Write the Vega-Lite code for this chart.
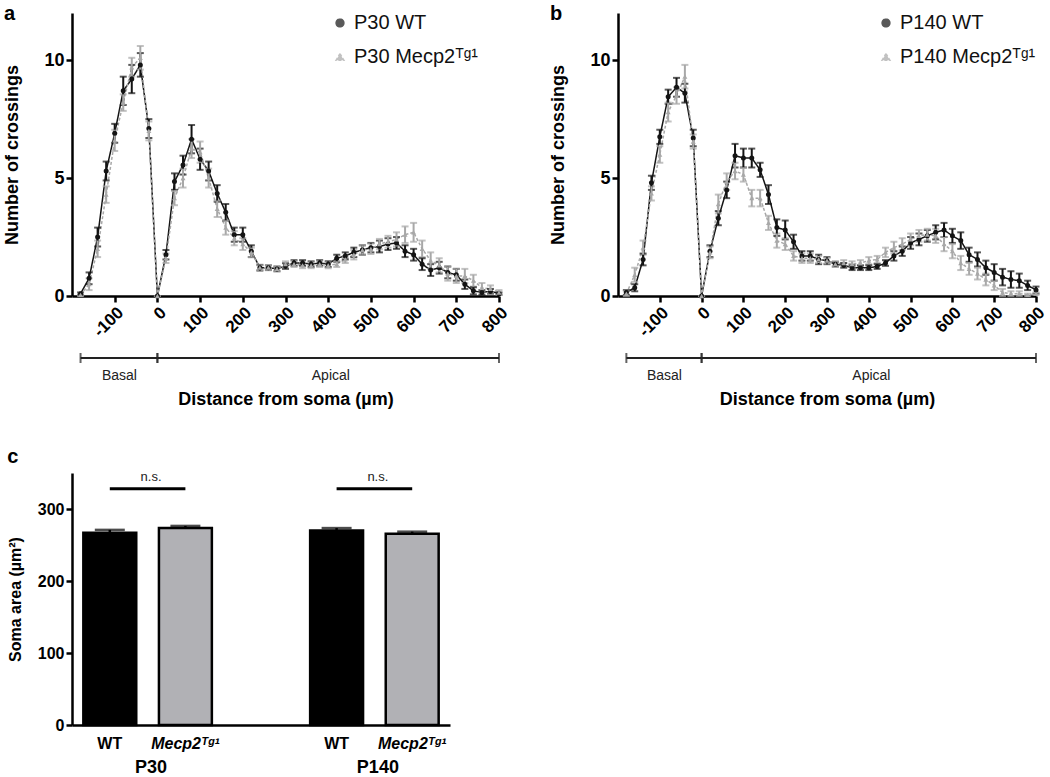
{
  "$schema": "https://vega.github.io/schema/vega-lite/v6.json",
  "background": "white",
  "padding": {"left": 3, "top": 4, "right": 5, "bottom": 2},
  "config": {
    "view": {"stroke": null},
    "font": "Liberation Sans",
    "axis": {"domainColor": "#000", "domainWidth": 2.5, "tickColor": "#000", "tickWidth": 2.5, "tickSize": 6, "labelColor": "#000", "titleColor": "#000", "grid": false, "labelFont": "Liberation Sans", "titleFont": "Liberation Sans", "labelFontWeight": "bold", "titleFontWeight": "bold"},
    "legend": {"labelFont": "Liberation Sans", "labelFontSize": 20, "labelColor": "#111", "symbolSize": 60, "rowPadding": 14, "padding": 0, "symbolStrokeWidth": 1.5, "labelLimit": 300, "orient": "none"},
    "title": {"font": "Liberation Sans", "color": "#000"}
  },
  "datasets": {
    "sholl": [
      {"p":"a","g":"WT","d":-180,"n":0.1,"se":0.05},{"p":"a","g":"WT","d":-160,"n":0.75,"se":0.25},{"p":"a","g":"WT","d":-140,"n":2.5,"se":0.4},{"p":"a","g":"WT","d":-120,"n":5.3,"se":0.4},{"p":"a","g":"WT","d":-100,"n":6.9,"se":0.4},{"p":"a","g":"WT","d":-80,"n":8.7,"se":0.6},{"p":"a","g":"WT","d":-60,"n":9.2,"se":0.6},{"p":"a","g":"WT","d":-40,"n":9.8,"se":0.5},{"p":"a","g":"WT","d":-20,"n":7.1,"se":0.4},{"p":"a","g":"WT","d":0,"n":0,"se":0},
      {"p":"a","g":"WT","d":20,"n":1.75,"se":0.2},{"p":"a","g":"WT","d":40,"n":4.85,"se":0.35},{"p":"a","g":"WT","d":60,"n":5.55,"se":0.4},{"p":"a","g":"WT","d":80,"n":6.65,"se":0.6},{"p":"a","g":"WT","d":100,"n":5.8,"se":0.45},{"p":"a","g":"WT","d":120,"n":5.3,"se":0.4},{"p":"a","g":"WT","d":140,"n":4.35,"se":0.35},{"p":"a","g":"WT","d":160,"n":3.55,"se":0.35},{"p":"a","g":"WT","d":180,"n":2.6,"se":0.3},{"p":"a","g":"WT","d":200,"n":2.6,"se":0.3},
      {"p":"a","g":"WT","d":220,"n":1.9,"se":0.25},{"p":"a","g":"WT","d":240,"n":1.2,"se":0.12},{"p":"a","g":"WT","d":260,"n":1.2,"se":0.1},{"p":"a","g":"WT","d":280,"n":1.15,"se":0.1},{"p":"a","g":"WT","d":300,"n":1.27,"se":0.12},{"p":"a","g":"WT","d":320,"n":1.4,"se":0.12},{"p":"a","g":"WT","d":340,"n":1.4,"se":0.12},{"p":"a","g":"WT","d":360,"n":1.35,"se":0.12},{"p":"a","g":"WT","d":380,"n":1.4,"se":0.12},{"p":"a","g":"WT","d":400,"n":1.35,"se":0.12},
      {"p":"a","g":"WT","d":420,"n":1.6,"se":0.15},{"p":"a","g":"WT","d":440,"n":1.7,"se":0.15},{"p":"a","g":"WT","d":460,"n":1.85,"se":0.2},{"p":"a","g":"WT","d":480,"n":1.95,"se":0.2},{"p":"a","g":"WT","d":500,"n":2.05,"se":0.2},{"p":"a","g":"WT","d":520,"n":2.1,"se":0.25},{"p":"a","g":"WT","d":540,"n":2.2,"se":0.25},{"p":"a","g":"WT","d":560,"n":2.25,"se":0.25},{"p":"a","g":"WT","d":580,"n":1.9,"se":0.25},{"p":"a","g":"WT","d":600,"n":1.75,"se":0.25},
      {"p":"a","g":"WT","d":620,"n":1.35,"se":0.25},{"p":"a","g":"WT","d":640,"n":1.1,"se":0.25},{"p":"a","g":"WT","d":660,"n":1.2,"se":0.25},{"p":"a","g":"WT","d":680,"n":1.0,"se":0.25},{"p":"a","g":"WT","d":700,"n":0.9,"se":0.25},{"p":"a","g":"WT","d":720,"n":0.5,"se":0.2},{"p":"a","g":"WT","d":740,"n":0.22,"se":0.15},{"p":"a","g":"WT","d":760,"n":0.15,"se":0.1},{"p":"a","g":"WT","d":780,"n":0.2,"se":0.1},{"p":"a","g":"WT","d":800,"n":0.1,"se":0.05},
      {"p":"a","g":"Tg","d":-180,"n":0.05,"se":0.05},{"p":"a","g":"Tg","d":-160,"n":0.5,"se":0.25},{"p":"a","g":"Tg","d":-140,"n":2.0,"se":0.35},{"p":"a","g":"Tg","d":-120,"n":4.3,"se":0.35},{"p":"a","g":"Tg","d":-100,"n":6.6,"se":0.45},{"p":"a","g":"Tg","d":-80,"n":8.2,"se":0.35},{"p":"a","g":"Tg","d":-60,"n":9.7,"se":0.4},{"p":"a","g":"Tg","d":-40,"n":10.1,"se":0.5},{"p":"a","g":"Tg","d":-20,"n":7.0,"se":0.4},{"p":"a","g":"Tg","d":0,"n":0,"se":0},
      {"p":"a","g":"Tg","d":20,"n":1.6,"se":0.2},{"p":"a","g":"Tg","d":40,"n":4.15,"se":0.3},{"p":"a","g":"Tg","d":60,"n":5.0,"se":0.4},{"p":"a","g":"Tg","d":80,"n":6.25,"se":0.4},{"p":"a","g":"Tg","d":100,"n":6.1,"se":0.45},{"p":"a","g":"Tg","d":120,"n":5.0,"se":0.4},{"p":"a","g":"Tg","d":140,"n":3.7,"se":0.35},{"p":"a","g":"Tg","d":160,"n":2.9,"se":0.3},{"p":"a","g":"Tg","d":180,"n":2.45,"se":0.3},{"p":"a","g":"Tg","d":200,"n":2.2,"se":0.25},
      {"p":"a","g":"Tg","d":220,"n":1.85,"se":0.2},{"p":"a","g":"Tg","d":240,"n":1.2,"se":0.1},{"p":"a","g":"Tg","d":260,"n":1.2,"se":0.1},{"p":"a","g":"Tg","d":280,"n":1.15,"se":0.1},{"p":"a","g":"Tg","d":300,"n":1.35,"se":0.12},{"p":"a","g":"Tg","d":320,"n":1.35,"se":0.12},{"p":"a","g":"Tg","d":340,"n":1.3,"se":0.12},{"p":"a","g":"Tg","d":360,"n":1.3,"se":0.12},{"p":"a","g":"Tg","d":380,"n":1.35,"se":0.12},{"p":"a","g":"Tg","d":400,"n":1.3,"se":0.12},
      {"p":"a","g":"Tg","d":420,"n":1.35,"se":0.12},{"p":"a","g":"Tg","d":440,"n":1.55,"se":0.15},{"p":"a","g":"Tg","d":460,"n":1.75,"se":0.2},{"p":"a","g":"Tg","d":480,"n":1.95,"se":0.2},{"p":"a","g":"Tg","d":500,"n":2.0,"se":0.22},{"p":"a","g":"Tg","d":520,"n":2.2,"se":0.22},{"p":"a","g":"Tg","d":540,"n":2.3,"se":0.25},{"p":"a","g":"Tg","d":560,"n":2.4,"se":0.3},{"p":"a","g":"Tg","d":580,"n":2.6,"se":0.35},{"p":"a","g":"Tg","d":600,"n":2.7,"se":0.4},
      {"p":"a","g":"Tg","d":620,"n":2.0,"se":0.35},{"p":"a","g":"Tg","d":640,"n":1.5,"se":0.35},{"p":"a","g":"Tg","d":660,"n":1.3,"se":0.3},{"p":"a","g":"Tg","d":680,"n":0.95,"se":0.3},{"p":"a","g":"Tg","d":700,"n":0.85,"se":0.3},{"p":"a","g":"Tg","d":720,"n":0.85,"se":0.3},{"p":"a","g":"Tg","d":740,"n":0.65,"se":0.25},{"p":"a","g":"Tg","d":760,"n":0.35,"se":0.2},{"p":"a","g":"Tg","d":780,"n":0.3,"se":0.15},{"p":"a","g":"Tg","d":800,"n":0.15,"se":0.1},
      {"p":"b","g":"WT","d":-180,"n":0.15,"se":0.1},{"p":"b","g":"WT","d":-160,"n":0.35,"se":0.15},{"p":"b","g":"WT","d":-140,"n":1.55,"se":0.25},{"p":"b","g":"WT","d":-120,"n":4.8,"se":0.3},{"p":"b","g":"WT","d":-100,"n":6.75,"se":0.3},{"p":"b","g":"WT","d":-80,"n":8.45,"se":0.3},{"p":"b","g":"WT","d":-60,"n":8.85,"se":0.4},{"p":"b","g":"WT","d":-40,"n":8.6,"se":0.4},{"p":"b","g":"WT","d":-20,"n":6.7,"se":0.35},{"p":"b","g":"WT","d":0,"n":0,"se":0},
      {"p":"b","g":"WT","d":20,"n":1.9,"se":0.25},{"p":"b","g":"WT","d":40,"n":3.3,"se":0.3},{"p":"b","g":"WT","d":60,"n":4.5,"se":0.35},{"p":"b","g":"WT","d":80,"n":5.95,"se":0.5},{"p":"b","g":"WT","d":100,"n":5.85,"se":0.4},{"p":"b","g":"WT","d":120,"n":5.85,"se":0.4},{"p":"b","g":"WT","d":140,"n":5.35,"se":0.3},{"p":"b","g":"WT","d":160,"n":4.3,"se":0.4},{"p":"b","g":"WT","d":180,"n":2.9,"se":0.35},{"p":"b","g":"WT","d":200,"n":2.8,"se":0.4},
      {"p":"b","g":"WT","d":220,"n":2.3,"se":0.3},{"p":"b","g":"WT","d":240,"n":1.7,"se":0.2},{"p":"b","g":"WT","d":260,"n":1.7,"se":0.2},{"p":"b","g":"WT","d":280,"n":1.55,"se":0.2},{"p":"b","g":"WT","d":300,"n":1.5,"se":0.15},{"p":"b","g":"WT","d":320,"n":1.35,"se":0.1},{"p":"b","g":"WT","d":340,"n":1.3,"se":0.1},{"p":"b","g":"WT","d":360,"n":1.2,"se":0.1},{"p":"b","g":"WT","d":380,"n":1.2,"se":0.1},{"p":"b","g":"WT","d":400,"n":1.2,"se":0.1},
      {"p":"b","g":"WT","d":420,"n":1.25,"se":0.1},{"p":"b","g":"WT","d":440,"n":1.4,"se":0.12},{"p":"b","g":"WT","d":460,"n":1.7,"se":0.2},{"p":"b","g":"WT","d":480,"n":1.9,"se":0.2},{"p":"b","g":"WT","d":500,"n":2.25,"se":0.25},{"p":"b","g":"WT","d":520,"n":2.4,"se":0.25},{"p":"b","g":"WT","d":540,"n":2.55,"se":0.25},{"p":"b","g":"WT","d":560,"n":2.7,"se":0.3},{"p":"b","g":"WT","d":580,"n":2.8,"se":0.3},{"p":"b","g":"WT","d":600,"n":2.55,"se":0.3},
      {"p":"b","g":"WT","d":620,"n":2.35,"se":0.35},{"p":"b","g":"WT","d":640,"n":1.75,"se":0.3},{"p":"b","g":"WT","d":660,"n":1.55,"se":0.3},{"p":"b","g":"WT","d":680,"n":1.2,"se":0.3},{"p":"b","g":"WT","d":700,"n":1.0,"se":0.35},{"p":"b","g":"WT","d":720,"n":0.8,"se":0.35},{"p":"b","g":"WT","d":740,"n":0.7,"se":0.35},{"p":"b","g":"WT","d":760,"n":0.65,"se":0.3},{"p":"b","g":"WT","d":780,"n":0.45,"se":0.2},{"p":"b","g":"WT","d":800,"n":0.25,"se":0.15},
      {"p":"b","g":"Tg","d":-180,"n":0.1,"se":0.1},{"p":"b","g":"Tg","d":-160,"n":0.9,"se":0.3},{"p":"b","g":"Tg","d":-140,"n":2.05,"se":0.3},{"p":"b","g":"Tg","d":-120,"n":4.35,"se":0.3},{"p":"b","g":"Tg","d":-100,"n":6.0,"se":0.35},{"p":"b","g":"Tg","d":-80,"n":7.8,"se":0.4},{"p":"b","g":"Tg","d":-60,"n":8.5,"se":0.35},{"p":"b","g":"Tg","d":-40,"n":9.3,"se":0.5},{"p":"b","g":"Tg","d":-20,"n":6.55,"se":0.3},{"p":"b","g":"Tg","d":0,"n":0,"se":0},
      {"p":"b","g":"Tg","d":20,"n":1.85,"se":0.25},{"p":"b","g":"Tg","d":40,"n":3.9,"se":0.4},{"p":"b","g":"Tg","d":60,"n":4.85,"se":0.35},{"p":"b","g":"Tg","d":80,"n":5.3,"se":0.35},{"p":"b","g":"Tg","d":100,"n":5.15,"se":0.3},{"p":"b","g":"Tg","d":120,"n":4.15,"se":0.35},{"p":"b","g":"Tg","d":140,"n":4.15,"se":0.35},{"p":"b","g":"Tg","d":160,"n":3.1,"se":0.3},{"p":"b","g":"Tg","d":180,"n":2.35,"se":0.3},{"p":"b","g":"Tg","d":200,"n":2.2,"se":0.25},
      {"p":"b","g":"Tg","d":220,"n":1.7,"se":0.2},{"p":"b","g":"Tg","d":240,"n":1.6,"se":0.2},{"p":"b","g":"Tg","d":260,"n":1.6,"se":0.2},{"p":"b","g":"Tg","d":280,"n":1.55,"se":0.15},{"p":"b","g":"Tg","d":300,"n":1.5,"se":0.12},{"p":"b","g":"Tg","d":320,"n":1.35,"se":0.12},{"p":"b","g":"Tg","d":340,"n":1.4,"se":0.12},{"p":"b","g":"Tg","d":360,"n":1.35,"se":0.12},{"p":"b","g":"Tg","d":380,"n":1.4,"se":0.12},{"p":"b","g":"Tg","d":400,"n":1.5,"se":0.15},
      {"p":"b","g":"Tg","d":420,"n":1.55,"se":0.15},{"p":"b","g":"Tg","d":440,"n":1.85,"se":0.2},{"p":"b","g":"Tg","d":460,"n":2.05,"se":0.25},{"p":"b","g":"Tg","d":480,"n":2.2,"se":0.25},{"p":"b","g":"Tg","d":500,"n":2.4,"se":0.25},{"p":"b","g":"Tg","d":520,"n":2.55,"se":0.25},{"p":"b","g":"Tg","d":540,"n":2.6,"se":0.25},{"p":"b","g":"Tg","d":560,"n":2.55,"se":0.3},{"p":"b","g":"Tg","d":580,"n":2.2,"se":0.3},{"p":"b","g":"Tg","d":600,"n":1.9,"se":0.3},
      {"p":"b","g":"Tg","d":620,"n":1.4,"se":0.3},{"p":"b","g":"Tg","d":640,"n":1.15,"se":0.25},{"p":"b","g":"Tg","d":660,"n":0.95,"se":0.25},{"p":"b","g":"Tg","d":680,"n":0.7,"se":0.25},{"p":"b","g":"Tg","d":700,"n":0.45,"se":0.2},{"p":"b","g":"Tg","d":720,"n":0.15,"se":0.15},{"p":"b","g":"Tg","d":740,"n":0.1,"se":0.1},{"p":"b","g":"Tg","d":760,"n":0.1,"se":0.1},{"p":"b","g":"Tg","d":780,"n":0.05,"se":0.05},{"p":"b","g":"Tg","d":800,"n":0.1,"se":0.05}
    ],
    "bracket": [
      {"s": -180, "e": 0, "region": "Basal"},
      {"s": 0, "e": 800, "region": "Apical"}
    ],
    "soma": [
      {"slot": "P30 WT", "age": "P30", "geno": "WT", "area": 267, "se": 4},
      {"slot": "P30 Tg", "age": "P30", "geno": "Tg", "area": 273.5, "se": 3},
      {"slot": "P140 WT", "age": "P140", "geno": "WT", "area": 270, "se": 3.5},
      {"slot": "P140 Tg", "age": "P140", "geno": "Tg", "area": 265.5, "se": 3}
    ],
    "annot": [
      {"from": "P30 WT", "to": "P30 Tg", "age": "P30", "txt": "n.s."},
      {"from": "P140 WT", "to": "P140 Tg", "age": "P140", "txt": "n.s."}
    ]
  },
  "resolve": {"scale": {"x": "independent", "y": "independent", "color": "independent", "shape": "independent", "strokeDash": "independent", "fill": "independent"}},
  "spacing": 38,
  "vconcat": [
    {
      "resolve": {"scale": {"x": "independent", "y": "independent", "color": "independent", "shape": "independent", "strokeDash": "independent"}, "legend": {"color": "independent", "shape": "independent", "strokeDash": "independent"}},
      "spacing": 38,
      "hconcat": [
        {
          "spacing": 10,
          "vconcat": [
            {
              "title": {"text": "a", "anchor": "start", "frame": "bounds", "fontSize": 20, "fontWeight": "bold", "offset": -11},
              "width": 427, "height": 283,
              "data": {"name": "sholl"},
              "transform": [{"filter": "datum.p == 'a'"}],
              "encoding": {
                "x": {"field": "d", "type": "quantitative", "scale": {"domain": [-200, 800], "nice": false, "zero": false}, "axis": {"values": [-100, 0, 100, 200, 300, 400, 500, 600, 700, 800], "labelExpr": "replace(datum.label, '−', '-')", "labelAngle": -45, "labelFontSize": 17, "title": null, "labelPadding": 2}},
                "y": {"field": "n", "type": "quantitative", "scale": {"domain": [0, 12], "nice": false}, "axis": {"values": [0, 5, 10], "title": "Number of crossings", "titleFontSize": 18, "labelFontSize": 18, "titlePadding": 22}},
                "color": {"field": "g", "type": "nominal", "scale": {"domain": ["WT", "Tg"], "range": ["#141414", "#a8a8a8"]}, "legend": {"title": null, "orient": "none", "legendX": 258, "legendY": 0, "labelExpr": "datum.label == 'WT' ? 'P30 WT' : 'P30 Mecp2ᵀᵍ¹'"}}
              },
              "layer": [
                {"mark": {"type": "line", "strokeWidth": 1.5}, "encoding": {"strokeDash": {"field": "g", "type": "nominal", "scale": {"domain": ["WT", "Tg"], "range": [[1, 0], [3, 2]]}, "legend": {"title": null, "orient": "none", "legendX": 258, "legendY": 0, "labelExpr": "datum.label == 'WT' ? 'P30 WT' : 'P30 Mecp2ᵀᵍ¹'"}}}},
                {"mark": {"type": "errorbar", "ticks": {"size": 7}, "thickness": 2}, "encoding": {"yError": {"field": "se"}}},
                {"mark": {"type": "point", "filled": true, "size": 25, "opacity": 1}, "encoding": {"shape": {"field": "g", "type": "nominal", "scale": {"domain": ["WT", "Tg"], "range": ["circle", "triangle-up"]}, "legend": {"title": null, "orient": "none", "legendX": 258, "legendY": 0, "labelExpr": "datum.label == 'WT' ? 'P30 WT' : 'P30 Mecp2ᵀᵍ¹'"}}}}
              ]
            },
            {
              "width": 427, "height": 16,
              "data": {"name": "bracket"},
              "encoding": {
                "x": {"field": "s", "type": "quantitative", "scale": {"domain": [-200, 800], "nice": false, "zero": false}, "axis": {"orient": "bottom", "domain": false, "ticks": false, "values": [-90, 405], "labelExpr": "datum.value < 0 ? 'Basal' : 'Apical'", "labelFontWeight": "normal", "labelFontSize": 14, "labelColor": "#222", "labelPadding": 2, "title": "Distance from soma (µm)", "titleFontSize": 18, "titlePadding": 8}}
              },
              "layer": [
                {"mark": {"type": "rule", "strokeWidth": 2, "color": "#222"}, "encoding": {"x2": {"field": "e"}}},
                {"mark": {"type": "tick", "orient": "vertical", "thickness": 2, "size": 10, "color": "#222"}, "encoding": {}},
                {"mark": {"type": "tick", "orient": "vertical", "thickness": 2, "size": 10, "color": "#222"}, "encoding": {"x": {"field": "e", "type": "quantitative"}}}
              ]
            }
          ]
        },
        {
          "spacing": 10,
          "vconcat": [
            {
              "title": {"text": "b", "anchor": "start", "frame": "bounds", "fontSize": 20, "fontWeight": "bold", "offset": -11},
              "width": 418, "height": 283,
              "data": {"name": "sholl"},
              "transform": [{"filter": "datum.p == 'b'"}],
              "encoding": {
                "x": {"field": "d", "type": "quantitative", "scale": {"domain": [-200, 800], "nice": false, "zero": false}, "axis": {"values": [-100, 0, 100, 200, 300, 400, 500, 600, 700, 800], "labelExpr": "replace(datum.label, '−', '-')", "labelAngle": -45, "labelFontSize": 17, "title": null, "labelPadding": 2}},
                "y": {"field": "n", "type": "quantitative", "scale": {"domain": [0, 12], "nice": false}, "axis": {"values": [0, 5, 10], "title": "Number of crossings", "titleFontSize": 18, "labelFontSize": 18, "titlePadding": 22}},
                "color": {"field": "g", "type": "nominal", "scale": {"domain": ["WT", "Tg"], "range": ["#141414", "#a8a8a8"]}, "legend": {"title": null, "orient": "none", "legendX": 258, "legendY": 0, "labelExpr": "datum.label == 'WT' ? 'P140 WT' : 'P140 Mecp2ᵀᵍ¹'"}}
              },
              "layer": [
                {"mark": {"type": "line", "strokeWidth": 1.5}, "encoding": {"strokeDash": {"field": "g", "type": "nominal", "scale": {"domain": ["WT", "Tg"], "range": [[1, 0], [3, 2]]}, "legend": {"title": null, "orient": "none", "legendX": 258, "legendY": 0, "labelExpr": "datum.label == 'WT' ? 'P140 WT' : 'P140 Mecp2ᵀᵍ¹'"}}}},
                {"mark": {"type": "errorbar", "ticks": {"size": 7}, "thickness": 2}, "encoding": {"yError": {"field": "se"}}},
                {"mark": {"type": "point", "filled": true, "size": 25, "opacity": 1}, "encoding": {"shape": {"field": "g", "type": "nominal", "scale": {"domain": ["WT", "Tg"], "range": ["circle", "triangle-up"]}, "legend": {"title": null, "orient": "none", "legendX": 258, "legendY": 0, "labelExpr": "datum.label == 'WT' ? 'P140 WT' : 'P140 Mecp2ᵀᵍ¹'"}}}}
              ]
            },
            {
              "width": 418, "height": 16,
              "data": {"name": "bracket"},
              "encoding": {
                "x": {"field": "s", "type": "quantitative", "scale": {"domain": [-200, 800], "nice": false, "zero": false}, "axis": {"orient": "bottom", "domain": false, "ticks": false, "values": [-90, 405], "labelExpr": "datum.value < 0 ? 'Basal' : 'Apical'", "labelFontWeight": "normal", "labelFontSize": 14, "labelColor": "#222", "labelPadding": 2, "title": "Distance from soma (µm)", "titleFontSize": 18, "titlePadding": 8}}
              },
              "layer": [
                {"mark": {"type": "rule", "strokeWidth": 2, "color": "#222"}, "encoding": {"x2": {"field": "e"}}},
                {"mark": {"type": "tick", "orient": "vertical", "thickness": 2, "size": 10, "color": "#222"}, "encoding": {}},
                {"mark": {"type": "tick", "orient": "vertical", "thickness": 2, "size": 10, "color": "#222"}, "encoding": {"x": {"field": "e", "type": "quantitative"}}}
              ]
            }
          ]
        }
      ]
    },
    {
      "title": {"text": "c", "anchor": "start", "frame": "bounds", "fontSize": 20, "fontWeight": "bold", "offset": 4},
      "width": 378, "height": 252,
      "encoding": {
        "x": {"field": "slot", "type": "nominal", "scale": {"type": "band", "domain": ["P30 WT", "P30 Tg", "gap", "P140 WT", "P140 Tg"], "paddingInner": 0.3, "paddingOuter": 0.15}, "axis": {"title": null, "ticks": false, "labelAngle": 0, "labelFontSize": 16, "labelPadding": 10, "labelExpr": "indexof(datum.value, 'WT') >= 0 ? 'WT' : (indexof(datum.value, 'Tg') >= 0 ? 'Mecp2ᵀᵍ¹' : '')", "labelFontStyle": {"condition": {"test": "indexof(datum.value, 'Tg') >= 0", "value": "italic"}, "value": "normal"}}}
      },
      "layer": [
        {"data": {"name": "soma"}, "mark": {"type": "errorbar", "ticks": {"size": 30}, "thickness": 2.5, "color": "#000"}, "encoding": {"y": {"field": "area", "type": "quantitative", "scale": {"domain": [0, 350], "nice": false}, "axis": {"values": [0, 100, 200, 300], "title": "Soma area (µm²)", "titleFontSize": 16, "labelFontSize": 16, "titlePadding": 14}}, "yError": {"field": "se"}}},
        {"data": {"name": "soma"}, "mark": {"type": "bar", "stroke": "#000", "strokeWidth": 2.5}, "encoding": {"y": {"field": "area", "type": "quantitative"}, "fill": {"field": "geno", "type": "nominal", "scale": {"domain": ["WT", "Tg"], "range": ["#000000", "#b1b1b5"]}, "legend": null}}},
        {"data": {"name": "annot"}, "mark": {"type": "rule", "strokeWidth": 3, "color": "#000"}, "encoding": {"x": {"field": "from", "type": "nominal"}, "x2": {"field": "to"}, "y": {"datum": 328}}},
        {"data": {"name": "annot"}, "mark": {"type": "text", "fontSize": 13, "color": "#222", "baseline": "middle"}, "encoding": {"x": {"field": "from", "type": "nominal", "bandPosition": 1.28}, "y": {"datum": 345}, "text": {"field": "txt"}}},
        {"data": {"name": "annot"}, "mark": {"type": "text", "fontSize": 18, "fontWeight": "bold", "color": "#000", "baseline": "middle"}, "encoding": {"x": {"field": "from", "type": "nominal", "bandPosition": 1.28}, "y": {"datum": -60}, "text": {"field": "age"}}}
      ]
    }
  ]
}
